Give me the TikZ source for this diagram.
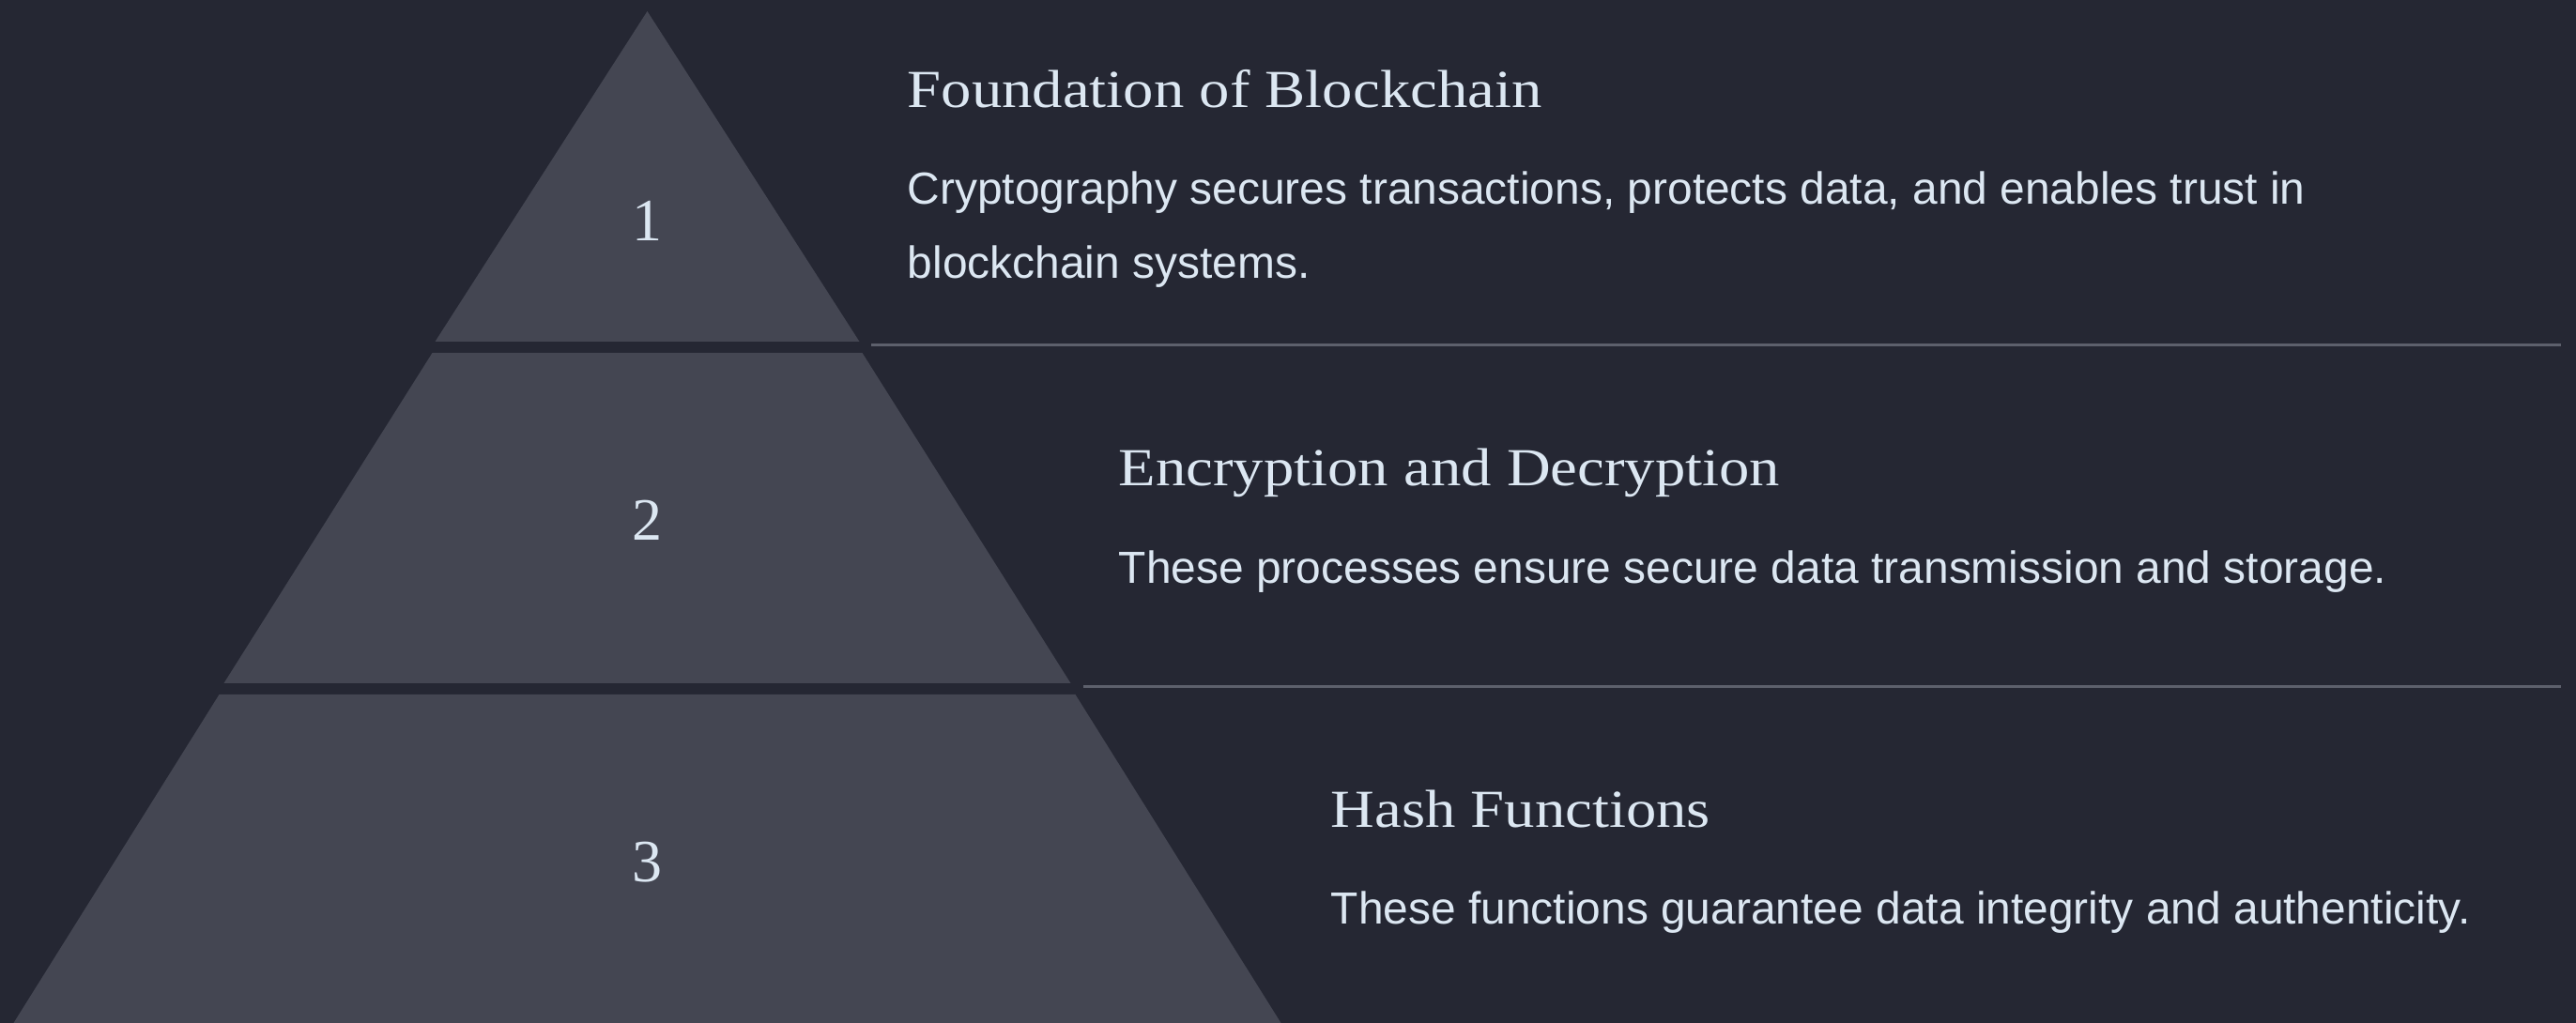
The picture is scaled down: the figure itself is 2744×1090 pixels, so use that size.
\documentclass[tikz,border=0pt]{standalone}
\usepackage{fontspec}
\setmainfont{Liberation Serif}
\newfontfamily\headfont[FakeStretch=1.135]{Liberation Serif}
\newfontfamily\bodyfont{Liberation Sans}
\definecolor{bgc}{HTML}{252733}
\definecolor{pyr}{HTML}{444652}
\definecolor{txt}{HTML}{DCE7F2}
\definecolor{rule}{HTML}{5D606C}
\begin{document}
\begin{tikzpicture}[x=0.25pt,y=-0.25pt,
  seg/.style={fill=pyr,draw=none},
  num/.style={anchor=base,inner sep=0pt,text=txt,font=\fontsize{16}{19}\selectfont},
  head/.style={anchor=base west,inner sep=0pt,text=txt,font=\headfont\fontsize{14.25}{17}\selectfont},
  body/.style={anchor=base west,inner sep=0pt,text=txt,font=\bodyfont\fontsize{11.98}{14}\selectfont},
  divider/.style={draw=rule,line width=0.75pt}]
\fill[bgc] (0,0) rectangle (2744,1090);
\useasboundingbox (0,0) rectangle (2744,1090);
% pyramid segments
\fill[seg] (689.5,12) -- (915.5,364) -- (463.5,364) -- cycle;
\fill[seg] (460.5,376) -- (918.5,376) -- (1140.5,728) -- (238.5,728) -- cycle;
\fill[seg] (233.5,740) -- (1145.5,740) -- (1364.5,1090) -- (14.5,1090) -- cycle;
% numbers
\node[num] (n1) at (689.5,257) {1};
\node[num] (n2) at (689.5,576) {2};
\node[num] (n3) at (689.5,940) {3};
% dividers
\coordinate (d1a) at (928,368);
\coordinate (d1b) at (2728,368);
\coordinate (d2a) at (1154,732);
\coordinate (d2b) at (2728,732);
\draw[divider] (d1a) -- (d1b);
\draw[divider] (d2a) -- (d2b);
% texts
\node[head] (h1) at (966,115) {Foundation of Blockchain};
\node[body] (b1) at (966,218) {Cryptography secures transactions, protects data, and enables trust in};
\node[body] (b1b) at (966,297) {blockchain systems.};
\node[head] (h2) at (1191,518) {Encryption and Decryption};
\node[body] (b2) at (1191,622) {These processes ensure secure data transmission and storage.};
\node[head] (h3) at (1417,882) {Hash Functions};
\node[body] (b3) at (1417,985) {These functions guarantee data integrity and authenticity.};
\end{tikzpicture}
\end{document}
